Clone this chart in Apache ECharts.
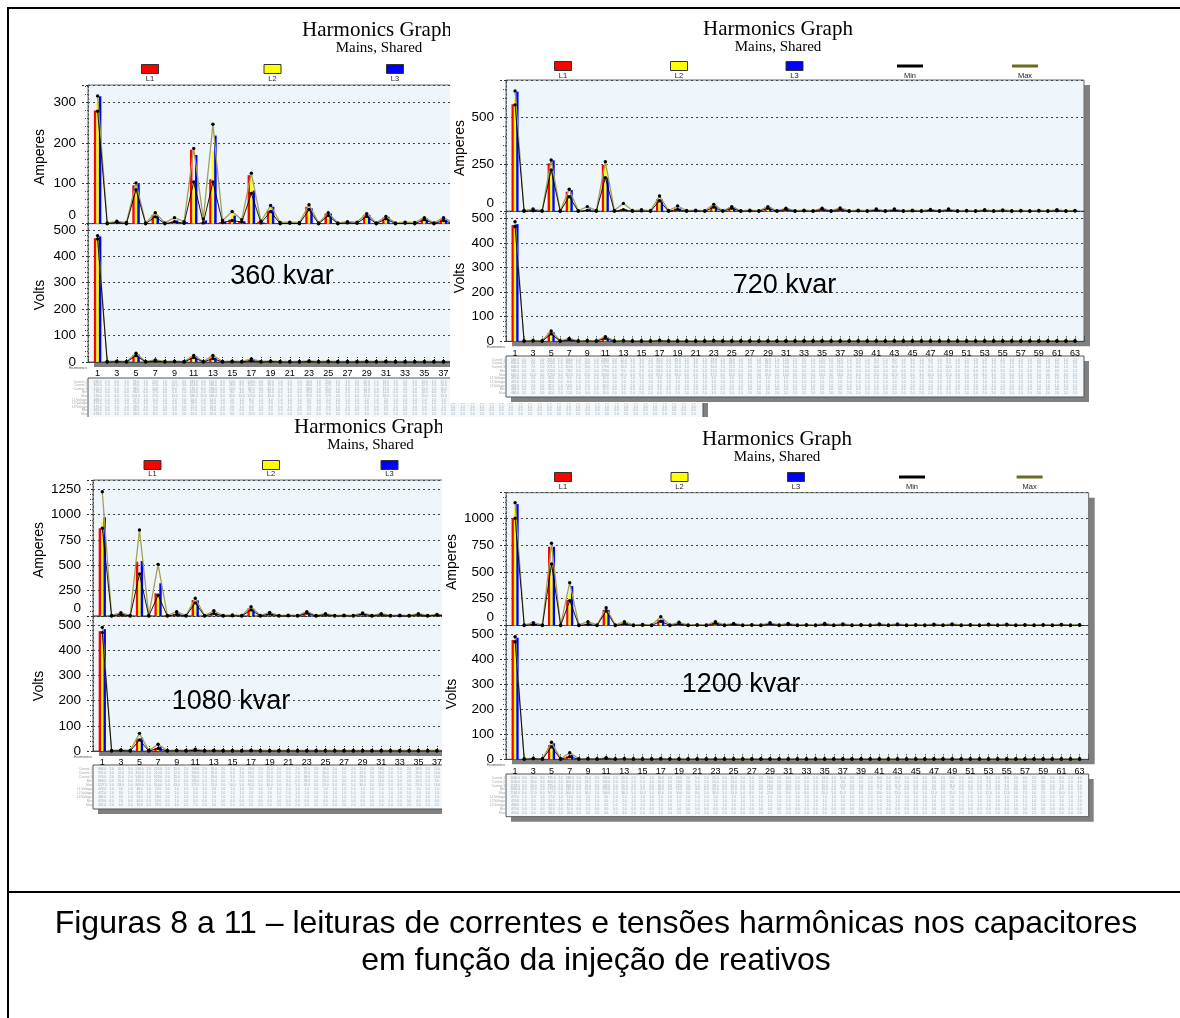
<!DOCTYPE html>
<html><head><meta charset="utf-8">
<script src="https://cdn.jsdelivr.net/npm/echarts@6/dist/echarts.min.js"></script>
<style>html,body{margin:0;padding:0;background:#fff}#c{width:1180px;height:1018px}</style>
</head><body><div id="c"></div><script>
// ---------------- DATA ----------------
const harmonics = [1,2,3,4,5,6,7,8,9,10,11,12,13,14,15,16,17,18,19,20,21,22,23,24,25,26,27,28,29,30,31,32,33,34,35,36,37,38,39,40,41,42,43,44,45,46,47,48,49,50,51,52,53,54,55,56,57,58,59,60,61,62,63];
const panelLabels = ['360 kvar','720 kvar','1080 kvar','1200 kvar'];
const legendNames = ['L1','L2','L3','Min','Max'];
const tableRowNames = ['Current 1','Current 2','Current 3','Min','Max','L1 Voltage','L2 Voltage','L3 Voltage','Min','Max'];
const ampTickStep = [100, 250, 250, 250];
const voltTickStep = [100, 100, 100, 100];

// 360 kvar
const amps360L1 = [280,1,4,1,95,1,22,1,5,2, 183,3,110,4,10,6,120,5,32,1, 2,1,42,1,25,1,3,2,22,1, 15,1,2,1,13,1,12,1,3,1, 8,1,6,1,2,1,5,1,4,1, 2,1,3,1,2,1,3,1,2,1, 2,1,2];
const amps360L2 = [300,1,5,2,85,1,27,1,14,3, 103,9,180,6,28,8,110,4,38,2, 3,2,40,1,22,1,4,3,20,1, 12,1,3,2,12,1,10,1,3,1, 7,1,5,1,2,1,4,1,4,1, 2,1,3,1,2,1,2,1,2,1, 2,1,2];
const amps360L3 = [315,1,5,1,98,1,20,1,8,4, 170,8,218,5,20,6,82,3,42,1, 2,1,38,1,25,1,3,2,22,1, 17,1,2,1,13,1,10,1,2,1, 8,1,6,1,2,1,5,1,4,1, 2,1,3,1,2,1,3,1,2,1, 2,1,2];
const amps360Min = [278,0,3,0,84,0,17,0,5,1, 103,2,103,3,8,4,75,2,30,0, 1,0,35,0,20,0,2,1,18,0, 12,0,1,0,10,0,8,0,2,0, 6,0,4,0,1,0,3,0,3,0, 1,0,2,0,1,0,2,0,1,0, 1,0,1];
const amps360Max = [316,2,6,3,101,2,27,2,15,5, 186,12,246,8,30,10,125,6,45,3, 4,3,47,2,27,2,5,4,25,2, 18,2,4,3,15,2,15,2,4,2, 10,2,8,2,3,2,7,2,6,2, 3,2,5,2,3,2,4,2,3,2, 3,2,3];
const volts360L1 = [468,1,2,1,27,1,6,1,2,1, 20,1,14,1,2,1,8,1,3,1, 1,1,3,1,2,1,1,1,2,1, 2,1,1,1,1,1,1,1,1,1, 1,1,1,1,1,1,1,1,1,1, 1,1,1,1,1,1,1,1,1,1, 1,1,1];
const volts360L2 = [472,1,2,1,25,1,5,1,2,1, 18,1,20,1,2,1,7,1,3,1, 1,1,3,1,2,1,1,1,2,1, 2,1,1,1,1,1,1,1,1,1, 1,1,1,1,1,1,1,1,1,1, 1,1,1,1,1,1,1,1,1,1, 1,1,1];
const volts360L3 = [475,1,2,1,28,1,5,1,2,1, 22,1,16,1,2,1,6,1,3,1, 1,1,3,1,2,1,1,1,2,1, 2,1,1,1,1,1,1,1,1,1, 1,1,1,1,1,1,1,1,1,1, 1,1,1,1,1,1,1,1,1,1, 1,1,1];
const volts360Min = [465,0,1,0,24,0,4,0,1,0, 17,0,13,0,1,0,5,0,2,0, 0,0,2,0,1,0,0,0,1,0, 1,0,0,0,0,0,0,0,0,0, 0,0,0,0,0,0,0,0,0,0, 0,0,0,0,0,0,0,0,0,0, 0,0,0];
const volts360Max = [478,2,3,2,33,2,8,2,3,2, 25,2,25,2,3,2,12,2,4,2, 2,2,4,2,3,2,2,2,3,2, 3,2,2,2,2,2,2,2,2,2, 2,2,2,2,2,2,2,2,2,2, 2,2,2,2,2,2,2,2,2,2, 2,2,2];

// 720 kvar
const amps720L1 = [569,2,5,1,255,1,104,1,5,1, 246,2,12,1,3,1,64,2,15,1, 3,1,28,1,20,1,3,1,20,1, 12,1,3,1,12,1,12,1,3,1, 8,1,8,1,3,1,6,1,8,1, 2,1,5,1,4,1,2,1,2,1, 4,1,2];
const amps720L2 = [600,3,6,2,220,1,80,1,10,2, 257,3,15,2,4,2,55,2,12,2, 4,2,25,2,18,1,4,2,18,1, 10,1,4,1,10,1,14,1,4,1, 9,1,9,1,4,1,7,1,9,1, 3,1,6,1,5,1,3,1,3,1, 5,1,3];
const amps720L3 = [636,2,7,1,271,1,113,1,15,1, 179,2,10,1,3,1,63,2,15,1, 3,1,30,1,22,1,3,1,22,1, 14,1,3,1,14,1,15,1,3,1, 10,1,10,1,3,1,8,1,10,1, 3,1,6,1,5,1,3,1,3,1, 6,1,3];
const amps720Min = [566,0,3,0,220,0,78,0,5,0, 179,0,9,0,2,0,56,0,10,0, 2,0,22,0,16,0,2,0,16,0, 10,0,2,0,10,0,10,0,2,0, 6,0,6,0,2,0,5,0,6,0, 1,0,4,0,3,0,1,0,1,0, 3,0,1];
const amps720Max = [640,5,12,4,273,3,117,3,25,4, 264,5,42,4,8,4,81,4,28,4, 6,3,37,3,25,3,6,3,25,3, 16,3,6,3,16,3,18,3,6,3, 12,3,12,3,6,3,10,3,12,3, 5,3,8,3,7,3,5,3,5,3, 8,3,5];
const volts720L1 = [472,1,2,1,35,1,9,1,2,1, 15,1,2,1,1,1,3,1,1,1, 1,1,2,1,1,1,1,1,1,1, 1,1,1,1,1,1,1,1,1,1, 1,1,1,1,1,1,1,1,1,1, 1,1,1,1,1,1,1,1,1,1, 1,1,1];
const volts720L2 = [470,1,2,1,33,1,8,1,2,1, 14,1,2,1,1,1,3,1,1,1, 1,1,2,1,1,1,1,1,1,1, 1,1,1,1,1,1,1,1,1,1, 1,1,1,1,1,1,1,1,1,1, 1,1,1,1,1,1,1,1,1,1, 1,1,1];
const volts720L3 = [476,1,2,1,37,1,10,1,2,1, 16,1,2,1,1,1,3,1,1,1, 1,1,2,1,1,1,1,1,1,1, 1,1,1,1,1,1,1,1,1,1, 1,1,1,1,1,1,1,1,1,1, 1,1,1,1,1,1,1,1,1,1, 1,1,1];
const volts720Min = [466,0,1,0,30,0,6,0,1,0, 12,0,1,0,0,0,2,0,0,0, 0,0,1,0,0,0,0,0,0,0, 0,0,0,0,0,0,0,0,0,0, 0,0,0,0,0,0,0,0,0,0, 0,0,0,0,0,0,0,0,0,0, 0,0,0];
const volts720Max = [486,2,3,2,42,2,12,2,3,2, 19,2,3,2,2,2,4,2,2,2, 2,2,3,2,2,2,2,2,2,2, 2,2,2,2,2,2,2,2,2,2, 2,2,2,2,2,2,2,2,2,2, 2,2,2,2,2,2,2,2,2,2, 2,2,2];

// 1080 kvar
const amps1080L1 = [866,2,20,3,536,2,224,2,20,2, 158,2,30,2,5,2,76,2,25,2, 5,2,35,2,18,2,5,2,25,2, 18,2,5,2,18,2,12,2,5,2, 10,2,10,2,5,2,8,2,10,2, 4,2,6,2,5,2,4,2,4,2, 5,2,4];
const amps1080L2 = [931,3,22,3,415,2,210,2,22,2, 130,2,35,2,6,2,65,2,22,2, 5,2,32,2,16,2,5,2,22,2, 16,2,5,2,16,2,10,2,5,2, 9,2,9,2,5,2,7,2,9,2, 4,2,5,2,4,2,4,2,4,2, 4,2,4];
const amps1080L3 = [974,2,25,2,543,2,323,2,25,2, 154,2,28,2,5,2,70,2,28,2, 5,2,38,2,20,2,5,2,28,2, 20,2,5,2,20,2,14,2,5,2, 11,2,11,2,5,2,9,2,11,2, 5,2,7,2,6,2,5,2,5,2, 6,2,5];
const amps1080Min = [866,0,15,0,415,0,205,0,15,0, 130,0,25,0,3,0,60,0,20,0, 3,0,28,0,14,0,3,0,20,0, 14,0,3,0,14,0,9,0,3,0, 7,0,7,0,3,0,6,0,7,0, 3,0,4,0,3,0,3,0,3,0, 3,0,3];
const amps1080Max = [1227,5,33,5,849,5,510,5,43,5, 175,5,52,5,10,5,92,5,36,5, 8,5,43,5,23,5,8,5,30,5, 23,5,8,5,23,5,16,5,8,5, 14,5,14,5,8,5,12,5,14,5, 7,5,9,5,8,5,7,5,7,5, 8,5,7];
const volts1080L1 = [476,1,3,1,48,1,12,1,2,1, 5,1,2,1,1,1,2,1,1,1, 1,1,1,1,1,1,1,1,1,1, 1,1,1,1,1,1,1,1,1,1, 1,1,1,1,1,1,1,1,1,1, 1,1,1,1,1,1,1,1,1,1, 1,1,1];
const volts1080L2 = [472,1,3,1,44,1,10,1,2,1, 4,1,2,1,1,1,2,1,1,1, 1,1,1,1,1,1,1,1,1,1, 1,1,1,1,1,1,1,1,1,1, 1,1,1,1,1,1,1,1,1,1, 1,1,1,1,1,1,1,1,1,1, 1,1,1];
const volts1080L3 = [484,1,3,1,53,1,18,1,2,1, 5,1,2,1,1,1,2,1,1,1, 1,1,1,1,1,1,1,1,1,1, 1,1,1,1,1,1,1,1,1,1, 1,1,1,1,1,1,1,1,1,1, 1,1,1,1,1,1,1,1,1,1, 1,1,1];
const volts1080Min = [470,0,2,0,44,0,10,0,1,0, 3,0,1,0,0,0,1,0,0,0, 0,0,0,0,0,0,0,0,0,0, 0,0,0,0,0,0,0,0,0,0, 0,0,0,0,0,0,0,0,0,0, 0,0,0,0,0,0,0,0,0,0, 0,0,0];
const volts1080Max = [491,2,4,2,70,2,27,2,3,2, 7,2,3,2,2,2,3,2,2,2, 2,2,2,2,2,2,2,2,2,2, 2,2,2,2,2,2,2,2,2,2, 2,2,2,2,2,2,2,2,2,2, 2,2,2,2,2,2,2,2,2,2, 2,2,2];

// 1200 kvar
const amps1200L1 = [1000,3,15,3,735,2,238,2,15,2, 145,2,20,2,5,2,50,2,20,2, 5,2,25,2,15,2,5,2,18,2, 14,2,5,2,14,2,10,2,5,2, 10,2,10,2,5,2,8,2,10,2, 4,2,8,2,8,2,4,2,4,2, 6,2,4];
const amps1200L2 = [1100,3,18,3,600,2,300,2,18,2, 135,2,22,2,5,2,45,2,18,2, 5,2,22,2,14,2,5,2,16,2, 12,2,5,2,12,2,9,2,5,2, 9,2,9,2,5,2,7,2,9,2, 4,2,7,2,7,2,4,2,4,2, 5,2,4];
const amps1200L3 = [1133,3,20,3,735,2,368,2,20,2, 145,2,25,2,5,2,55,2,22,2, 5,2,28,2,16,2,5,2,20,2, 15,2,5,2,15,2,11,2,5,2, 11,2,11,2,5,2,9,2,11,2, 5,2,9,2,9,2,5,2,5,2, 7,2,5];
const amps1200Min = [1000,0,10,0,574,0,232,0,10,0, 135,0,15,0,3,0,40,0,15,0, 3,0,20,0,12,0,3,0,14,0, 10,0,3,0,10,0,7,0,3,0, 7,0,7,0,3,0,5,0,7,0, 3,0,5,0,5,0,3,0,3,0, 4,0,3];
const amps1200Max = [1146,6,27,6,767,5,400,5,36,5, 166,5,36,5,10,5,82,5,30,5, 8,5,36,5,20,5,8,5,25,5, 20,5,8,5,20,5,15,5,8,5, 15,5,15,5,8,5,12,5,15,5, 7,5,12,5,12,5,7,5,7,5, 10,5,7];
const volts1200L1 = [477,1,3,1,57,1,12,1,2,1, 5,1,2,1,1,1,2,1,1,1, 1,1,1,1,1,1,1,1,1,1, 1,1,1,1,1,1,1,1,1,1, 1,1,1,1,1,1,1,1,1,1, 1,1,1,1,1,1,1,1,1,1, 1,1,1];
const volts1200L2 = [474,1,3,1,50,1,10,1,2,1, 4,1,2,1,1,1,2,1,1,1, 1,1,1,1,1,1,1,1,1,1, 1,1,1,1,1,1,1,1,1,1, 1,1,1,1,1,1,1,1,1,1, 1,1,1,1,1,1,1,1,1,1, 1,1,1];
const volts1200L3 = [486,1,3,1,64,1,18,1,2,1, 5,1,2,1,1,1,2,1,1,1, 1,1,1,1,1,1,1,1,1,1, 1,1,1,1,1,1,1,1,1,1, 1,1,1,1,1,1,1,1,1,1, 1,1,1,1,1,1,1,1,1,1, 1,1,1];
const volts1200Min = [470,0,2,0,50,0,10,0,1,0, 3,0,1,0,0,0,1,0,0,0, 0,0,0,0,0,0,0,0,0,0, 0,0,0,0,0,0,0,0,0,0, 0,0,0,0,0,0,0,0,0,0, 0,0,0,0,0,0,0,0,0,0, 0,0,0];
const volts1200Max = [490,2,4,2,68,2,26,2,3,2, 6,2,3,2,2,2,3,2,2,2, 2,2,2,2,2,2,2,2,2,2, 2,2,2,2,2,2,2,2,2,2, 2,2,2,2,2,2,2,2,2,2, 2,2,2,2,2,2,2,2,2,2, 2,2,2];

const captionLines = ['Figuras 8 a 11 \u2013 leituras de correntes e tens\u00f5es harm\u00f4nicas nos capacitores','em fun\u00e7\u00e3o da inje\u00e7\u00e3o de reativos'];

// ---------------- LAYOUT / STYLE ----------------
const ampSets = [
  [amps360L1, amps360L2, amps360L3, amps360Min, amps360Max],
  [amps720L1, amps720L2, amps720L3, amps720Min, amps720Max],
  [amps1080L1, amps1080L2, amps1080L3, amps1080Min, amps1080Max],
  [amps1200L1, amps1200L2, amps1200L3, amps1200Min, amps1200Max]
];
const voltSets = [
  [volts360L1, volts360L2, volts360L3, volts360Min, volts360Max],
  [volts720L1, volts720L2, volts720L3, volts720Min, volts720Max],
  [volts1080L1, volts1080L2, volts1080L3, volts1080Min, volts1080Max],
  [volts1200L1, volts1200L2, volts1200L3, volts1200Min, volts1200Max]
];
const layouts = [
  {left:88, right:703, ampTop:85, zero:223.7, voltBottom:362, ampMax:343, voltMax:523,
   titleX:377, titleY:30, subX:379, subY:48, legendX:[150,272.5,395,517.5,640], legendY:69, legendLabelY:79,
   kvarX:282, kvarY:277, nameX:40, ampNameY:157, voltNameY:295, tableTop:378, tableBottom:418, base:0},
  {left:506, right:1084, ampTop:80, zero:211.3, voltBottom:341.3, ampMax:698, voltMax:528,
   titleX:778, titleY:29, subX:778, subY:47, legendX:[563,679,794.5,910,1025], legendY:66, legendLabelY:76,
   kvarX:784.5, kvarY:286, nameX:460, ampNameY:148, voltNameY:278, tableTop:356, tableBottom:397, base:8},
  {left:93, right:688, ampTop:480, zero:616, voltBottom:751, ampMax:1343, voltMax:536,
   titleX:369, titleY:427, subX:370.5, subY:445, legendX:[152.5,271,389.5,508,626.5], legendY:465, legendLabelY:474,
   kvarX:231, kvarY:702, nameX:39, ampNameY:550, voltNameY:686, tableTop:765, tableBottom:809, base:4},
  {left:506, right:1088.7, ampTop:492.7, zero:625.5, voltBottom:759.3, ampMax:1239, voltMax:535,
   titleX:777, titleY:439, subX:777, subY:457, legendX:[563,679.5,796,912,1029.6], legendY:477, legendLabelY:487,
   kvarX:741, kvarY:685, nameX:452, ampNameY:562, voltNameY:694, tableTop:774, tableBottom:816.7, base:8}
];
const colors = ['#ff0000','#ffff00','#0000ff','#000000','#a4a052'];
const legendSwatch = ['#ff0000','#ffff00','#0000ff','#000000','#6b6b1f'];
const SANS = 'Liberation Sans, Arial, sans-serif';
const SERIF = 'Liberation Serif, Times New Roman, serif';

const option = {animation:false, grid:[], xAxis:[], yAxis:[], series:[], graphic:{elements:[]}};
const G = option.graphic.elements;
function txt(x, y, text, st, z, extra) {
  const e = Object.assign({type:'text', x, y, silent:true, z, style:Object.assign({text, fill:'#000', align:'center', verticalAlign:'middle', fontFamily:SANS}, st)}, extra||{});
  G.push(e);
}
function rect(x, y, w, h, st, z) { G.push({type:'rect', silent:true, z, shape:{x, y, width:w, height:h}, style:st}); }

// covers (later panels drawn over earlier ones)
rect(10, 417, 432, 470, {fill:'#fff'}, 3);
rect(450, 10, 730, 393, {fill:'#fff'}, 7);
rect(442, 417, 738, 470, {fill:'#fff'}, 7);

layouts.forEach((L, p) => {
  const b = L.base;
  const W = L.right - L.left;
  const step = W / 64;
  const bw = step * 0.26;
  const gA = option.grid.length, gV = gA + 1;
  // shadow
  rect(L.left + 6, L.ampTop + 5, W, L.voltBottom - L.ampTop, {fill:'#808080'}, b);
  option.grid.push({left:L.left, top:L.ampTop, width:W, height:L.zero - L.ampTop, show:true, backgroundColor:'#eef6fc', borderColor:'#6a6a6a', borderWidth:1, z:b+1, outerBoundsMode:'none'});
  option.grid.push({left:L.left, top:L.zero, width:W, height:L.voltBottom - L.zero, show:true, backgroundColor:'#eef6fc', borderColor:'#6a6a6a', borderWidth:1, z:b+1, outerBoundsMode:'none'});
  const yCommon = {
    type:'value', min:0, z:b+1,
    axisLine:{show:true, lineStyle:{color:'#555', type:[2,2]}},
    axisTick:{show:true, length:8, lineStyle:{color:'#333', type:[2,2]}},
    minorTick:{show:true, splitNumber:5, length:4, lineStyle:{color:'#444', type:[1,1]}},
    splitLine:{show:true, lineStyle:{color:'#444', type:[2,3], width:1}}
  };
  const aStep = ampTickStep[p], vStep = voltTickStep[p];
  option.yAxis.push(Object.assign({}, yCommon, {gridIndex:gA, max:L.ampMax, interval:aStep,
    axisLabel:{margin:12, fontSize:13.5, fontFamily:SANS, color:'#000',
      formatter: v => v === 0 ? '{z|0}' : (Math.abs(v % aStep) < 1e-6 ? String(v) : ''),
      rich:{z:{fontSize:13.5, fontFamily:SANS, color:'#000', padding:[0,0,16,0]}}}}));
  option.yAxis.push(Object.assign({}, yCommon, {gridIndex:gV, max:L.voltMax, interval:vStep,
    axisLabel:{margin:12, fontSize:13.5, fontFamily:SANS, color:'#000',
      formatter: v => (Math.abs(v % vStep) < 1e-6 ? String(v) : '')}}));
  option.xAxis.push({type:'value', gridIndex:gA, min:0, max:64, interval:1, z:b+1,
    axisLabel:{show:false}, axisTick:{show:false}, splitLine:{show:false},
    axisLine:{show:true, lineStyle:{color:'#333', type:[2,2]}}});
  option.xAxis.push({type:'value', gridIndex:gV, min:0, max:64, interval:1, z:b+1,
    axisLabel:{margin:7.5, fontSize:9, fontFamily:SANS, color:'#000', formatter: v => (v % 2 === 1 ? String(v) : '')},
    axisTick:{show:true, inside:true, length:5, lineStyle:{color:'#333', type:[1,1]}},
    splitLine:{show:false}, axisLine:{show:true, lineStyle:{color:'#444'}}});

  [[gA, ampSets[p]], [gV, voltSets[p]]].forEach(([gi, sets]) => {
    for (let k = 0; k < 3; k++) {
      option.series.push({type:'bar', name:legendNames[k], xAxisIndex:gi, yAxisIndex:gi, silent:true,
        barWidth:bw, barGap:'0%', z:b+2,
        itemStyle:{color:colors[k]}, data:harmonics.map((h, i) => [h, sets[k][i]])});
    }
    [4, 3].forEach(k => {
      option.series.push({type:'line', name:legendNames[k], xAxisIndex:gi, yAxisIndex:gi, silent:true,
        z:b+2.5, symbol:'circle', symbolSize:3.4, showAllSymbol:true,
        itemStyle:{color:'#000'}, lineStyle:{color:colors[k], width:k === 4 ? 1.3 : 0.9},
        data:harmonics.map((h, i) => [h, sets[k][i]])});
    });
  });

  // titles
  txt(L.titleX, L.titleY, 'Harmonics Graph', {fontSize:21, fontFamily:SERIF}, b+2.8);
  txt(L.subX, L.subY, 'Mains, Shared', {fontSize:15, fontFamily:SERIF}, b+2.8);
  // legend
  legendNames.forEach((n, k) => {
    const cx = L.legendX[k];
    if (k < 3) rect(cx - 8.5, L.legendY - 4.5, 17, 9, {fill:legendSwatch[k], stroke:'#333', lineWidth:1}, b+2.8);
    else rect(cx - 13, L.legendY - 1.5, 26, 3, {fill:legendSwatch[k]}, b+2.8);
    txt(cx, L.legendLabelY, n, {fontSize:7.5, fill:'#222'}, b+2.8);
  });
  // axis names
  txt(L.nameX, L.ampNameY, 'Amperes', {fontSize:14}, b+2.8, {rotation:Math.PI/2});
  txt(L.nameX, L.voltNameY, 'Volts', {fontSize:14}, b+2.8, {rotation:Math.PI/2});
  // kvar
  txt(L.kvarX, L.kvarY, panelLabels[p], {fontSize:27}, b+2.8);
  // "Harmonics" tiny
  txt(L.left - 1, L.voltBottom + 6, 'Harmonics', {fontSize:3.8, align:'right', fill:'#555'}, b+2.8);
  // table
  const tH = L.tableBottom - L.tableTop;
  rect(L.left + 5, L.tableTop + 5, W, tH, {fill:'#808080'}, b);
  rect(L.left, L.tableTop, W, tH, {fill:'#f2f8fc', stroke:'#555', lineWidth:1}, b+1);
  const rows = ampSets[p].concat(voltSets[p]);
  const rowH = (tH - 4) / rows.length;
  txt(L.left - 1, L.tableTop + 2, tableRowNames.join('\n'), {fontSize:3.2, lineHeight:rowH, align:'right', verticalAlign:'top', fill:'#a4a4a4'}, b+2.8);
  harmonics.forEach((h, i) => {
    txt(L.left + h * step, L.tableTop + 2, rows.map(r => r[i].toFixed(1)).join('\n'),
      {fontSize:3.2, lineHeight:rowH, verticalAlign:'top', fill:'#a4a4a4'}, b+2.8);
  });
});

// outer frame and caption
rect(7, 7, 1173, 2, {fill:'#000'}, 20);
rect(7, 7, 2, 1011, {fill:'#000'}, 20);
rect(7, 891, 1173, 2, {fill:'#000'}, 20);
txt(596, 924, captionLines[0], {fontSize:32}, 20);
txt(596, 961, captionLines[1], {fontSize:32}, 20);

// sanity check on data lengths
const bad = ampSets.concat(voltSets).flat().filter(a => a.length !== harmonics.length).length;
if (bad) txt(600, 1005, 'DATA LENGTH MISMATCH: ' + bad, {fontSize:12, fill:'#f00'}, 30);

const chart = echarts.init(document.getElementById('c'), null, {renderer:'canvas'});
chart.setOption(option);
</script></body></html>
